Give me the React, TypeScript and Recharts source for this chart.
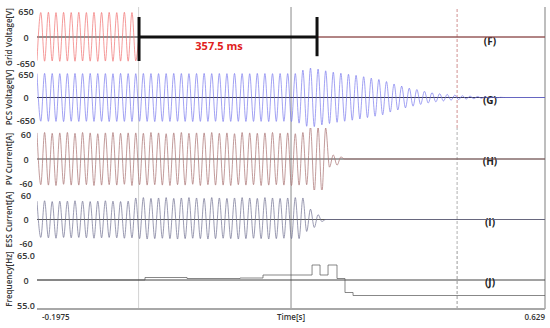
import React from 'react'
import { LineChart, Line, XAxis, YAxis, ReferenceLine } from 'recharts'

const FONT = '"Open Sans", "Noto Sans", sans-serif'

// time axis (seconds)
const T_START = -0.1975
const T_END = 0.629
const HALF_PERIOD = 0.00618 // crest to trough spacing of the recorded waves

const BORDER_TICKS = [-0.1975, -0.1149, -0.0322, 0.0505, 0.1331, 0.2158, 0.2984, 0.3811, 0.4637, 0.5464, 0.629]
const LABEL_TICKS = [-0.1975, 0.2158, 0.629]
const GRID_SOLID = [-0.0322, 0.2158]
const MARKER_DASHED = 0.486

const FAULT_START = -0.0315
const FAULT_END = 0.2581
const FAULT_TEXT = '357.5 ms'

// successive crest / trough values, one every HALF_PERIOD from T_START
const gridVoltagePeaks = [
  -590, 612, -605, 618, -600, 610, -608, 615, -602, 612,
  -606, 617, -600, 611, -604, 616, -609, 613, -601, 615,
  -607, 610, -603, 618, -605, 612, -598, 0
]

const pcsVoltagePeaks = [
  690, -685, 695, -688, 692, -690, 688, -694, 690, -686,
  693, -691, 689, -687, 694, -690, 691, -688, 690, -693,
  687, -690, 695, -689, 690, -692, 688, -686, 693, -690,
  691, -694, 689, -688, 690, -691, 694, -687, 692, -690,
  688, -693, 691, -689, 695, -690, 690, -687, 692, -694,
  689, -690, 693, -688, 690, -692, 687, -690, 694, -689,
  691, -693, 688, -690, 692, -687, 690, -694, 691,
  -740, 790, -830, 850, -840, 820, -790, 770, -750,
  730, -715, 700, -685, 670, -655, 640,
  -620, 600, -580, 560, -540, 520, -500,
  460, -420, 390, -360,
  330, -300, 270, -250, 230,
  -200, 180, -160, 140,
  -125, 110, -100, 90, -80,
  70, -60, 52, -45, 40, -35, 30, -25,
  20, -15, 12, -10, 5, 0
]

const pvCurrentPeaks = [
  64, -63, 65, -64, 63, -65, 64, -62, 65, -64,
  63, -64, 65, -63, 64, -65, 62, -64, 64, -63,
  65, -64, 63, -62, 64, -65, 64, -63, 63, -64,
  65, -63, 64, -64, 62, -65, 64, -63, 65, -64,
  63, -62, 64, -65, 64, -63, 65, -64, 63, -64,
  64, -65, 62, -63, 65, -64, 64, -63, 63, -65,
  64, -64, 65, -63, 63, -64, 64, -65, 62, -64,
  65, -63,
  80, -80, 78, -82, 76,
  -20, 10, -15, 5, 0
]

const essCurrentPeaks = [
  46, -45, 47, -46, 45, -47, 46, -45, 46, -46,
  47, -45, 46, -46, 45, -47, 46, -46, 47, -45,
  46, -46, 45, -47, 46, -46,
  54, -48, 55, -49, 53, -48, 54, -47, 55, -48,
  53, -49, 54, -48, 55, -47, 54, -48, 53, -49,
  55, -48, 54, -47, 53, -48, 54, -49, 55, -48,
  54, -47, 53, -48, 55, -49, 54, -48, 53, -47,
  54, -48, 55, -48, 54,
  -30, 26, -20, 12, -5, 0
]

const freqTimes = [-0.1975, -0.0218, 0.0466, 0.1328, 0.1702, 0.25, 0.263, 0.276, 0.2906, 0.3036, 0.3167, 0.629]
const freqValues = [60.0, 60.5, 60.3, 60.4, 61.0, 63.0, 61.0, 63.0, 60.3, 57.5, 56.9, 56.9]

const toSeries = (peaks: number[]) => [
  ...peaks.map((v, i) => ({ t: T_START + i * HALF_PERIOD, v })),
  { t: T_END, v: 0 }
]

const gridVoltage = toSeries(gridVoltagePeaks)
const pcsVoltage = toSeries(pcsVoltagePeaks)
const pvCurrent = toSeries(pvCurrentPeaks)
const essCurrent = toSeries(essCurrentPeaks)
const frequency = freqTimes.map((t, i) => ({ t, v: freqValues[i] }))

const PAD = 7 // room above/below each panel so edge tick labels are not cut

const ValueTick = (props: any) => {
  const { x, y, payload, fmt } = props
  return (
    <text x={x} y={y} textAnchor="middle" dominantBaseline="central" fontSize={9} fontWeight={600} fill="#333" fontFamily={FONT}>
      {fmt ? fmt(payload.value) : payload.value}
    </text>
  )
}

const TimeTick = (props: any) => {
  const { x, y, payload, index } = props
  const anchor = index === 0 ? 'start' : index === 2 ? 'end' : 'middle'
  const text = index === 1 ? 'Time[s]' : String(payload.value)
  return (
    <text x={index === 0 ? x + 5 : x} y={y + 5} textAnchor={anchor} dominantBaseline="central" fontSize={8} fontWeight={600} fill="#333" fontFamily={FONT}>
      {text}
    </text>
  )
}

const TagLabel = (props: any) => {
  const { viewBox, text, dy = 2 } = props
  return (
    <text x={viewBox.x + viewBox.width - 55} y={viewBox.y + dy} textAnchor="middle" dominantBaseline="central" fontSize={10} fontWeight={700} fill="#222" fontFamily={FONT}>
      {text}
    </text>
  )
}

const FaultLabel = (props: any) => {
  const { viewBox } = props
  return (
    <text x={viewBox.x + viewBox.width / 2 - 9} y={viewBox.y + 8} textAnchor="middle" dominantBaseline="central" fontSize={11} fontWeight={700} fill="#e02020" fontFamily={FONT}>
      {FAULT_TEXT}
    </text>
  )
}

interface PanelProps {
  top: number
  height: number
  title: string
  domain: [number, number]
  ticks: number[]
  fmt?: (v: number) => string
  data: { t: number; v: number }[]
  color: string
  zero: number
  zeroColor: string
  tag: string
  tagDy?: number
  dashColor: string
  curve?: 'monotone' | 'stepAfter'
  bottom?: boolean
  extra?: React.ReactNode[]
}

const Panel = ({ top, height, title, domain, ticks, fmt, data, color, zero, zeroColor, tag, tagDy, dashColor, curve = 'monotone', bottom, extra = [] }: PanelProps) => (
  <div style={{ position: 'absolute', left: 0, top: top - PAD }}>
    <LineChart width={550} height={height + PAD + (bottom ? 19 : PAD)} data={data} margin={{ top: PAD, right: 5, bottom: bottom ? 0 : PAD, left: 0 }}>
      <XAxis
        type="number"
        dataKey="t"
        domain={[T_START, T_END]}
        ticks={bottom ? LABEL_TICKS : BORDER_TICKS}
        interval={0}
        allowDataOverflow
        height={bottom ? 19 : 0}
        mirror={!bottom}
        tickSize={bottom ? 0 : 3}
        axisLine={{ stroke: '#a8a8a8', strokeWidth: 2 }}
        tickLine={bottom ? false : { stroke: '#999' }}
        tick={bottom ? <TimeTick /> : false}
      />
      <YAxis
        type="number"
        domain={domain}
        ticks={ticks}
        interval={0}
        allowDataOverflow
        width={37}
        axisLine={false}
        tickLine={false}
        tickSize={0}
        tickMargin={11}
        tick={<ValueTick fmt={fmt} />}
        label={{ value: title, angle: -90, position: 'insideLeft', offset: 9, style: { textAnchor: 'middle', fontSize: 8, fontWeight: 600, fill: '#333', fontFamily: FONT } }}
      />
      {GRID_SOLID.map((x, i) => (
        <ReferenceLine key={`g${i}`} x={x} stroke={i === 0 ? '#d2d2d2' : '#8a8a8a'} strokeWidth={1} />
      ))}
      <ReferenceLine x={MARKER_DASHED} stroke={dashColor} strokeDasharray="3 2" />
      <ReferenceLine x={T_END} stroke="#a8a8a8" strokeWidth={1.5} />
      <ReferenceLine y={zero} stroke={zeroColor} strokeWidth={1} label={<TagLabel text={tag} dy={tagDy} />} />
      <Line type={curve} dataKey="v" stroke={color} strokeWidth={0.7} dot={false} isAnimationActive={false} />
      {extra}
    </LineChart>
  </div>
)

const faultMarks = [
  <ReferenceLine key="fh" segment={[{ x: FAULT_START, y: 0 }, { x: FAULT_END, y: 0 }]} stroke="#111" strokeWidth={3} label={<FaultLabel />} />,
  <ReferenceLine key="fs" segment={[{ x: FAULT_START, y: 500 }, { x: FAULT_START, y: -600 }]} stroke="#111" strokeWidth={3} />,
  <ReferenceLine key="fe" segment={[{ x: FAULT_END, y: 500 }, { x: FAULT_END, y: -480 }]} stroke="#111" strokeWidth={3} />
]

export default function App() {
  return (
    <div style={{ position: 'absolute', left: 0, top: 0, width: 550, height: 328, background: '#fff', overflow: 'hidden' }}>
      <Panel top={7} height={60} title="Grid Voltage[V]" domain={[-750, 750]} ticks={[650, 0, -650]} data={gridVoltage}
        color="#f07070" zero={0} zeroColor="#222" tag="(F)" tagDy={4} dashColor="#d09090" extra={faultMarks} />
      <Panel top={67} height={61} title="PCS Voltage[V]" domain={[-880, 880]} ticks={[650, 0, -650]} data={pcsVoltage}
        color="#7a7aee" zero={0} zeroColor="#3a3a5a" tag="(G)" dashColor="#d09090" />
      <Panel top={128} height={62} title="PV Current[A]" domain={[-76, 76]} ticks={[60, 0, -60]} data={pvCurrent}
        color="#a87070" zero={0} zeroColor="#444" tag="(H)" dashColor="#b0b0b0" />
      <Panel top={190} height={59} title="ESS Current[A]" domain={[-74, 74]} ticks={[60, 0, -60]} data={essCurrent}
        color="#707090" zero={0} zeroColor="#555" tag="(I)" dashColor="#b0b0b0" />
      <Panel top={249} height={60} title="Frequency[Hz]" domain={[54.2, 66.2]} ticks={[65, 60, 55]}
        fmt={(v) => (v === 60 ? '0' : v.toFixed(1))} data={frequency} color="#555" zero={60} zeroColor="#444" tag="(J)"
        dashColor="#999" curve="stepAfter" bottom />
    </div>
  )
}
